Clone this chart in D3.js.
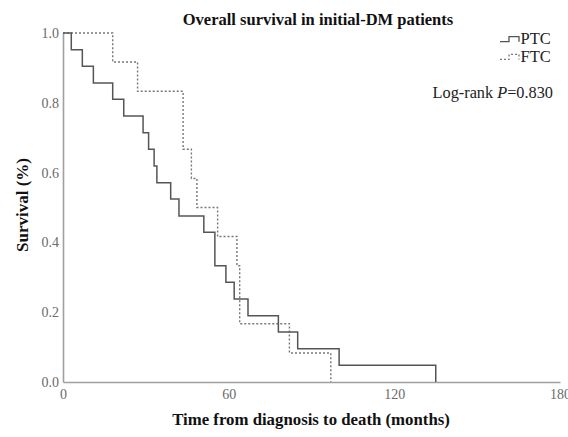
<!DOCTYPE html>
<html><head><meta charset="utf-8">
<script src="https://cdn.jsdelivr.net/npm/d3@7"></script>
<style>body{margin:0;background:#fff}svg{display:block}</style>
</head><body>
<svg id="c" width="568" height="437"></svg>
<script>
// PTC Kaplan-Meier steps: event times (months) and survival after each event
const ptcTimes = [0, 3, 7, 11, 18, 22, 29, 31, 33, 34, 39, 42, 51, 55, 59, 62, 67, 78, 85, 100, 135];
const ptcSurv  = [1.0, 0.952, 0.905, 0.857, 0.810, 0.762, 0.714, 0.667, 0.619, 0.571, 0.524, 0.476, 0.429, 0.333, 0.286, 0.238, 0.190, 0.143, 0.095, 0.048, 0.0];
// FTC
const ftcTimes = [0, 18, 27, 43.5, 46.5, 48.5, 56, 63, 64, 82, 97];
const ftcSurv  = [1.0, 0.917, 0.833, 0.667, 0.583, 0.5, 0.417, 0.333, 0.167, 0.083, 0.0];
const xTicks = [0, 60, 120, 180];
const yTicks = [0, 0.2, 0.4, 0.6, 0.8, 1.0];
const seriesNames = ["PTC", "FTC"];

const svg = d3.select("#c");
const x = d3.scaleLinear().domain([0, 180]).range([63, 560]);
const y = d3.scaleLinear().domain([0, 1]).range([382, 33]);
const serif = "'Liberation Serif','Times New Roman',serif";

// axes
const xa = svg.append("g").attr("transform", `translate(0,${y(0)})`)
  .call(d3.axisBottom(x).tickValues(xTicks).tickSize(0).tickPadding(7).tickFormat(d3.format("d")));
const ya = svg.append("g").attr("transform", `translate(${x(0)},0)`)
  .call(d3.axisLeft(y).tickValues(yTicks).tickSize(0).tickPadding(4).tickFormat(d3.format(".1f")));
[xa, ya].forEach(a => {
  a.select(".domain").attr("stroke", "#a0a0a0").attr("stroke-width", 1.6);
  a.selectAll("text").attr("font-family", serif).attr("font-size", 14).attr("fill", "#6a6a6a");
});

function pts(ts, ss) {
  return ts.map((t, i) => [t, ss[i]]);
}
const line = d3.line().x(d => x(d[0])).y(d => y(d[1])).curve(d3.curveStepAfter);

svg.append("path").datum(pts(ftcTimes, ftcSurv)).attr("d", line)
  .attr("fill", "none").attr("stroke", "#777").attr("stroke-width", 1.4).attr("stroke-dasharray", "2,2");
svg.append("path").datum(pts(ptcTimes, ptcSurv)).attr("d", line)
  .attr("fill", "none").attr("stroke", "#555").attr("stroke-width", 1.5);

// title and labels
svg.append("text").attr("x", 318).attr("y", 24.5).attr("text-anchor", "middle")
  .attr("font-family", serif).attr("font-weight", "bold").attr("font-size", 16.5).attr("fill", "#111")
  .text("Overall survival in initial-DM patients");
svg.append("text").attr("x", 311).attr("y", 425).attr("text-anchor", "middle")
  .attr("font-family", serif).attr("font-weight", "bold").attr("font-size", 16.8).attr("fill", "#111")
  .text("Time from diagnosis to death (months)");
svg.append("text").attr("transform", "translate(28,205) rotate(-90)").attr("text-anchor", "middle")
  .attr("font-family", serif).attr("font-weight", "bold").attr("font-size", 17).attr("fill", "#111")
  .text("Survival (%)");

// legend
const leg = svg.append("g");
seriesNames.forEach((n, i) => {
  const yy = 41.7 + i * 17.7;
  leg.append("path").attr("d", `M500,${yy} H509 V${yy - 5} H519 V${yy}`)
    .attr("fill", "none").attr("stroke", i === 0 ? "#555" : "#777").attr("stroke-width", 1.3)
    .attr("stroke-dasharray", i === 0 ? null : "2,2");
  leg.append("text").attr("x", 520.5).attr("y", yy + 2.7).attr("font-family", serif)
    .attr("font-size", 16.5).attr("fill", "#222").text(n);
});
const lr = svg.append("text").attr("x", 553).attr("y", 97.7).attr("text-anchor", "end")
  .attr("font-family", serif).attr("font-size", 16.3).attr("fill", "#222");
lr.append("tspan").text("Log-rank ");
lr.append("tspan").attr("font-style", "italic").text("P");
lr.append("tspan").text("=0.830");
</script>
</body></html>
